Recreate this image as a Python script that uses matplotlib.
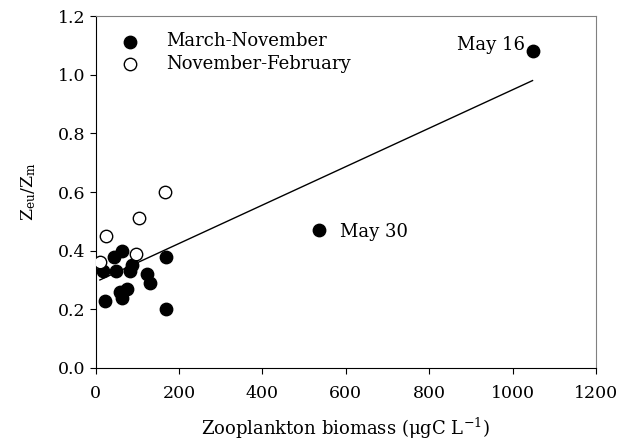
import numpy as np
import matplotlib.pyplot as plt

# March-November (filled)
mn_x = [18, 48, 45, 64, 82, 86, 122, 130, 168, 168, 22, 58, 74, 64, 535, 1048]
mn_y = [0.33, 0.33, 0.38, 0.40, 0.33, 0.35, 0.32, 0.29, 0.38, 0.20, 0.23, 0.26, 0.27, 0.24, 0.47, 1.08]
# November-February (open)
nf_x = [10, 24, 104, 97, 167]
nf_y = [0.36, 0.45, 0.51, 0.39, 0.60]
# regression line end points
fit_x = [10, 1048]
fit_y = [0.30, 0.98]

plt.rcParams['font.family'] = ['DejaVu Serif']
plt.rcParams['mathtext.fontset'] = 'dejavuserif'

fig = plt.figure(figsize=(6.38, 4.46), dpi=100)
ax = fig.add_axes([0.150, 0.175, 0.784, 0.789])

ax.plot(fit_x, fit_y, color='black', lw=1, zorder=2)
ax.scatter(mn_x, mn_y, s=80, c='black', edgecolors='black', zorder=3, label='March-November')
ax.scatter(nf_x, nf_y, s=80, c='white', edgecolors='black', linewidths=1, zorder=4, label='November-February')

ax.text(1030, 1.10, 'May 16', ha='right', va='center', fontsize=13)
ax.text(585, 0.463, 'May 30', ha='left', va='center', fontsize=13)

ax.set_xlim(0, 1200)
ax.set_ylim(0, 1.2)
ax.set_xticks(np.arange(0, 1201, 200))
ax.set_yticks(np.arange(0, 1.21, 0.2))
ax.set_yticklabels(['%.1f' % v for v in np.arange(0, 1.21, 0.2)])
ax.tick_params(direction='out', length=4, labelsize=12.5)
ax.tick_params(axis='x', pad=8)
for s in ['top', 'right']:
    ax.spines[s].set_color('gray')
ax.set_xlabel('Zooplankton biomass (μgC L$^{-1}$)', fontsize=13, labelpad=10)
ax.set_ylabel(r'Z$_{\rm eu}$/Z$_{\rm m}$', fontsize=12.5, labelpad=14)

ax.legend(loc='upper left', frameon=False, fontsize=13, handletextpad=1.0,
          labelspacing=0.25, borderaxespad=0.5, bbox_to_anchor=(0.0, 1.0))

fig.savefig('out.png', dpi=100)
